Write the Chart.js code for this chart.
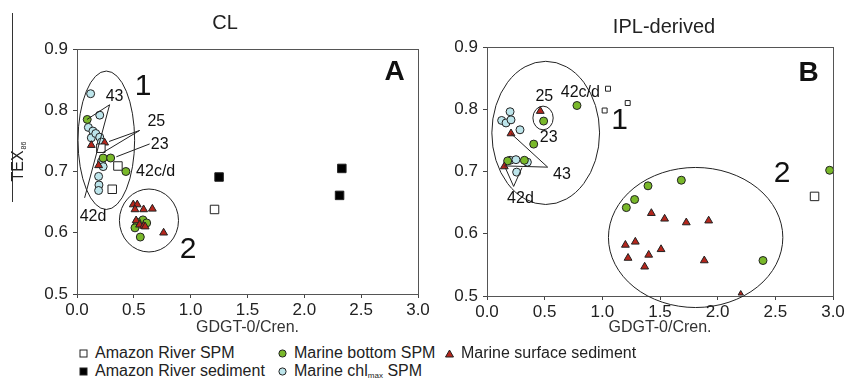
<!DOCTYPE html>
<html>
<head>
<meta charset="utf-8">
<script src="https://cdn.jsdelivr.net/npm/chart.js@4/dist/chart.umd.min.js"></script>
<style>
  body { margin:0; background:#fff; width:847px; height:391px; overflow:hidden; position:relative; font-family:"Liberation Sans", Arial, sans-serif; }
  canvas { position:absolute; top:0; }
  #cl { left:0; }
  #ipl { left:424px; }
  .lg { position:absolute; font-size:16px; color:#222; line-height:18px; white-space:nowrap; }
  .lg sub { font-size:8px; vertical-align:-2px; line-height:0; }
  .mk { position:absolute; width:9px; height:9px; }
  .mk svg { display:block; }
</style>
</head>
<body>
<canvas id="cl" width="440" height="340"></canvas>
<canvas id="ipl" width="423" height="340"></canvas>
<div id="legend"></div>
<script>
// CL panel
const clRiverSpmX = [0.21, 0.36, 0.31, 1.21];
const clRiverSpmY = [0.738, 0.709, 0.671, 0.638];
const clRiverSedX = [1.25, 2.33, 2.31];
const clRiverSedY = [0.691, 0.705, 0.661];
const clBottomX = [0.09, 0.23, 0.296, 0.43, 0.58, 0.53, 0.51, 0.613, 0.557];
const clBottomY = [0.785, 0.722, 0.722, 0.70, 0.621, 0.617, 0.608, 0.616, 0.593];
const clChlX = [0.12, 0.2, 0.1, 0.14, 0.126, 0.165, 0.2, 0.215, 0.215, 0.23, 0.19, 0.193, 0.19];
const clChlY = [0.827, 0.792, 0.772, 0.766, 0.755, 0.762, 0.756, 0.748, 0.716, 0.708, 0.692, 0.678, 0.669];
const clSurfX = [0.126, 0.243, 0.19, 0.495, 0.53, 0.51, 0.586, 0.663, 0.52, 0.55, 0.586, 0.6, 0.762];
const clSurfY = [0.743, 0.747, 0.71, 0.646, 0.646, 0.638, 0.638, 0.639, 0.62, 0.613, 0.611, 0.61, 0.6];

// IPL-derived panel
const iplRiverSpmX = [1.049, 1.02, 1.22, 2.84];
const iplRiverSpmY = [0.833, 0.798, 0.81, 0.66];
const iplRiverSpmSize = [3.5, 3.5, 3.5, 6];
const iplBottomX = [0.78, 0.491, 0.405, 0.179, 0.324, 1.208, 1.28, 1.396, 1.685, 2.393, 2.971];
const iplBottomY = [0.806, 0.781, 0.744, 0.717, 0.718, 0.642, 0.655, 0.677, 0.686, 0.557, 0.702];
const iplChlX = [0.127, 0.165, 0.2, 0.208, 0.286, 0.2, 0.251, 0.35, 0.257];
const iplChlY = [0.782, 0.778, 0.796, 0.783, 0.767, 0.718, 0.719, 0.715, 0.699];
const iplSurfX = [0.462, 0.208, 0.15, 1.425, 1.54, 1.728, 1.922, 1.2, 1.286, 1.223, 1.402, 1.509, 1.367, 1.884, 2.2];
const iplSurfY = [0.797, 0.761, 0.708, 0.633, 0.624, 0.618, 0.621, 0.582, 0.587, 0.561, 0.566, 0.575, 0.547, 0.557, 0.504];
const iplSurfSize = [4.5, 4.5, 4.5, 4.5, 4.5, 4.5, 4.5, 4.5, 4.5, 4.5, 4.5, 4.5, 4.5, 4.5, 3];

const xTicks = [0, 0.5, 1, 1.5, 2, 2.5, 3];
const yTicks = [0.5, 0.6, 0.7, 0.8, 0.9];

const FONT = '"Liberation Sans", Arial, sans-serif';
const GREEN = '#79b82a', CYAN = '#bde5eb', RED = '#b5261c';

function pts(xs, ys) {
    return xs.map((x, i) => ({x: x, y: ys[i]}));
}

// ellipses, leader lines and labels are given in data units
const clNotes = {
    title: 'CL', titleX: 225, titleY: 23, tex: true,
    ellipses: [[0.258, 0.751, 0.249, 0.113], [0.633, 0.62, 0.26, 0.0514]],
    lines: [
        [[0.287, 0.809], [0.088, 0.785]],
        [[0.287, 0.809], [0.067, 0.657]],
        [[0.551, 0.767], [0.282, 0.749]],
        [[0.551, 0.767], [0.229, 0.731]],
        [[0.639, 0.745], [0.346, 0.724]]
    ],
    labels: [
        ['1', 0.581, 0.838, 30], ['43', 0.331, 0.823, 16], ['25', 0.698, 0.781, 16],
        ['23', 0.727, 0.744, 16], ['42c/d', 0.692, 0.70, 16], ['42d', 0.141, 0.627, 16],
        ['2', 0.977, 0.572, 30], ['A', 2.795, 0.862, 28, true]
    ]
};
const iplNotes = {
    title: 'IPL-derived', titleX: 240, titleY: 27, tex: false,
    ellipses: [[0.509, 0.762, 0.467, 0.115], [0.486, 0.786, 0.088, 0.019], [1.809, 0.594, 0.756, 0.1125]],
    lines: [
        [[0.208, 0.761], [0.526, 0.707], [0.15, 0.709]],
        [[0.159, 0.706], [0.231, 0.676], [0.303, 0.706]]
    ],
    labels: [
        ['25', 0.497, 0.821, 16], ['42c/d', 0.809, 0.826, 16], ['1', 1.15, 0.781, 30],
        ['23', 0.535, 0.754, 16], ['43', 0.65, 0.695, 16], ['42d', 0.29, 0.656, 16],
        ['2', 2.558, 0.697, 30], ['B', 2.789, 0.858, 28, true]
    ]
};

const decoPlugin = {
    id: 'deco',
    afterDraw(chart) {
        const n = chart.options.plugins.deco;
        const {ctx, chartArea: a} = chart;
        const sx = chart.scales.x, sy = chart.scales.y;
        ctx.save();
        // frame
        ctx.strokeStyle = '#555';
        ctx.lineWidth = 1;
        ctx.strokeRect(Math.round(a.left) + 0.5, Math.round(a.top) + 0.5, Math.round(a.right - a.left), Math.round(a.bottom - a.top));
        // ellipses
        ctx.strokeStyle = '#222';
        n.ellipses.forEach(e => {
            const cx = sx.getPixelForValue(e[0]), cy = sy.getPixelForValue(e[1]);
            const rx = Math.abs(sx.getPixelForValue(e[0] + e[2]) - cx);
            const ry = Math.abs(sy.getPixelForValue(e[1] + e[3]) - cy);
            ctx.beginPath();
            ctx.ellipse(cx, cy, rx, ry, 0, 0, Math.PI * 2);
            ctx.stroke();
        });
        // leader lines
        n.lines.forEach(l => {
            ctx.beginPath();
            l.forEach((p, i) => {
                const px = sx.getPixelForValue(p[0]), py = sy.getPixelForValue(p[1]);
                if (i === 0) ctx.moveTo(px, py); else ctx.lineTo(px, py);
            });
            ctx.stroke();
        });
        // labels
        ctx.fillStyle = '#111';
        ctx.textAlign = 'center';
        ctx.textBaseline = 'middle';
        n.labels.forEach(l => {
            ctx.font = (l[4] ? 'bold ' : '') + l[3] + 'px ' + FONT;
            ctx.fillText(l[0], sx.getPixelForValue(l[1]), sy.getPixelForValue(l[2]));
        });
        // panel title
        ctx.fillStyle = '#222';
        ctx.font = '20px ' + FONT;
        ctx.fillText(n.title, n.titleX, n.titleY);
        // y title with subscript
        if (n.tex) {
            ctx.strokeStyle = '#333';
            ctx.beginPath();
            ctx.moveTo(12.5, 13);
            ctx.lineTo(12.5, 202);
            ctx.stroke();
            ctx.translate(19, 162);
            ctx.rotate(-Math.PI / 2);
            ctx.font = '16px ' + FONT;
            const w1 = ctx.measureText('TEX').width;
            ctx.textAlign = 'left';
            ctx.fillText('TEX', -w1 / 2 - 4, 0);
            ctx.font = '7px ' + FONT;
            ctx.fillText('86', w1 / 2 - 3, 5);
        }
        ctx.restore();
    }
};

function makeChart(id, datasets, notes, yWidth, xHeight, pad) {
    return new Chart(document.getElementById(id), {
        type: 'scatter',
        data: {datasets: datasets},
        options: {
            responsive: false,
            animation: false,
            layout: {padding: pad},
            plugins: {legend: {display: false}, tooltip: {enabled: false}, deco: notes},
            scales: {
                x: {
                    type: 'linear', min: 0, max: 3,
                    afterBuildTicks: s => { s.ticks = xTicks.map(v => ({value: v})); },
                    afterFit: s => { s.height = xHeight; s.paddingLeft = 0; s.paddingRight = 0; },
                    ticks: {callback: v => v.toFixed(1), color: '#222', padding: 2, maxRotation: 0, font: {size: 17, family: FONT}},
                    grid: {drawOnChartArea: false, tickLength: 4, color: '#444'},
                    border: {color: '#444'},
                    title: {display: true, text: 'GDGT-0/Cren.', color: '#333', padding: {top: 0, bottom: 3}, font: {size: 16, family: FONT}}
                },
                y: {
                    type: 'linear', min: 0.5, max: 0.9,
                    afterBuildTicks: s => { s.ticks = yTicks.map(v => ({value: v})); },
                    afterFit: s => { s.width = yWidth; s.paddingTop = 0; s.paddingBottom = 0; },
                    ticks: {callback: v => v.toFixed(1), color: '#222', padding: 5, font: {size: 17, family: FONT}},
                    grid: {drawOnChartArea: false, tickLength: 4, color: '#444'},
                    border: {color: '#444'}
                }
            }
        },
        plugins: [decoPlugin]
    });
}

function ds(label, data, style, fill, radius, order) {
    return {
        label: label, data: data, pointStyle: style, pointBackgroundColor: fill,
        pointBorderColor: '#222', pointBorderWidth: 1, pointRadius: radius, order: order, clip: false
    };
}

makeChart('cl', [
    ds('Amazon River SPM', pts(clRiverSpmX, clRiverSpmY), 'rect', '#fff', 6, 1),
    ds('Amazon River sediment', pts(clRiverSedX, clRiverSedY), 'rect', '#000', 6, 0),
    ds('Marine bottom SPM', pts(clBottomX, clBottomY), 'circle', GREEN, 4, 3),
    ds('Marine chlmax SPM', pts(clChlX, clChlY), 'circle', CYAN, 4, 4),
    ds('Marine surface sediment', pts(clSurfX, clSurfY), 'triangle', RED, 4.5, 2)
], clNotes, 77, 46, {top: 49, right: 22, left: 0, bottom: 0});

makeChart('ipl', [
    ds('Amazon River SPM', pts(iplRiverSpmX, iplRiverSpmY), 'rect', '#fff', iplRiverSpmSize, 1),
    ds('Marine bottom SPM', pts(iplBottomX, iplBottomY), 'circle', GREEN, 4, 3),
    ds('Marine chlmax SPM', pts(iplChlX, iplChlY), 'circle', CYAN, 4, 4),
    ds('Marine surface sediment', pts(iplSurfX, iplSurfY), 'triangle', RED, iplSurfSize, 2)
], iplNotes, 63, 44, {top: 47, right: 14, left: 0, bottom: 0});

// legend below the panels
const legendItems = [
    ['rect', '#fff', 'Amazon River SPM', 79, 353],
    ['rect', '#000', 'Amazon River sediment', 79, 371],
    ['circle', GREEN, 'Marine bottom SPM', 278, 353],
    ['circle', CYAN, 'Marine chl<sub>max</sub> SPM', 278, 371],
    ['triangle', RED, 'Marine surface sediment', 445, 353]
];
const legendEl = document.getElementById('legend');
legendItems.forEach(it => {
    let shape;
    if (it[0] === 'rect') shape = '<rect x="1" y="1" width="7" height="7" fill="' + it[1] + '" stroke="#222"/>';
    else if (it[0] === 'circle') shape = '<circle cx="4.5" cy="4.5" r="3.6" fill="' + it[1] + '" stroke="#222"/>';
    else shape = '<polygon points="4.5,1 8.5,8 0.5,8" fill="' + it[1] + '" stroke="#222"/>';
    const mk = document.createElement('div');
    mk.className = 'mk';
    mk.style.left = it[3] + 'px';
    mk.style.top = (it[4] - 4.5) + 'px';
    mk.innerHTML = '<svg width="9" height="9">' + shape + '</svg>';
    legendEl.appendChild(mk);
    const tx = document.createElement('div');
    tx.className = 'lg';
    tx.style.left = (it[3] + 16) + 'px';
    tx.style.top = (it[4] - 9) + 'px';
    tx.innerHTML = it[2];
    legendEl.appendChild(tx);
});
</script>
</body>
</html>
